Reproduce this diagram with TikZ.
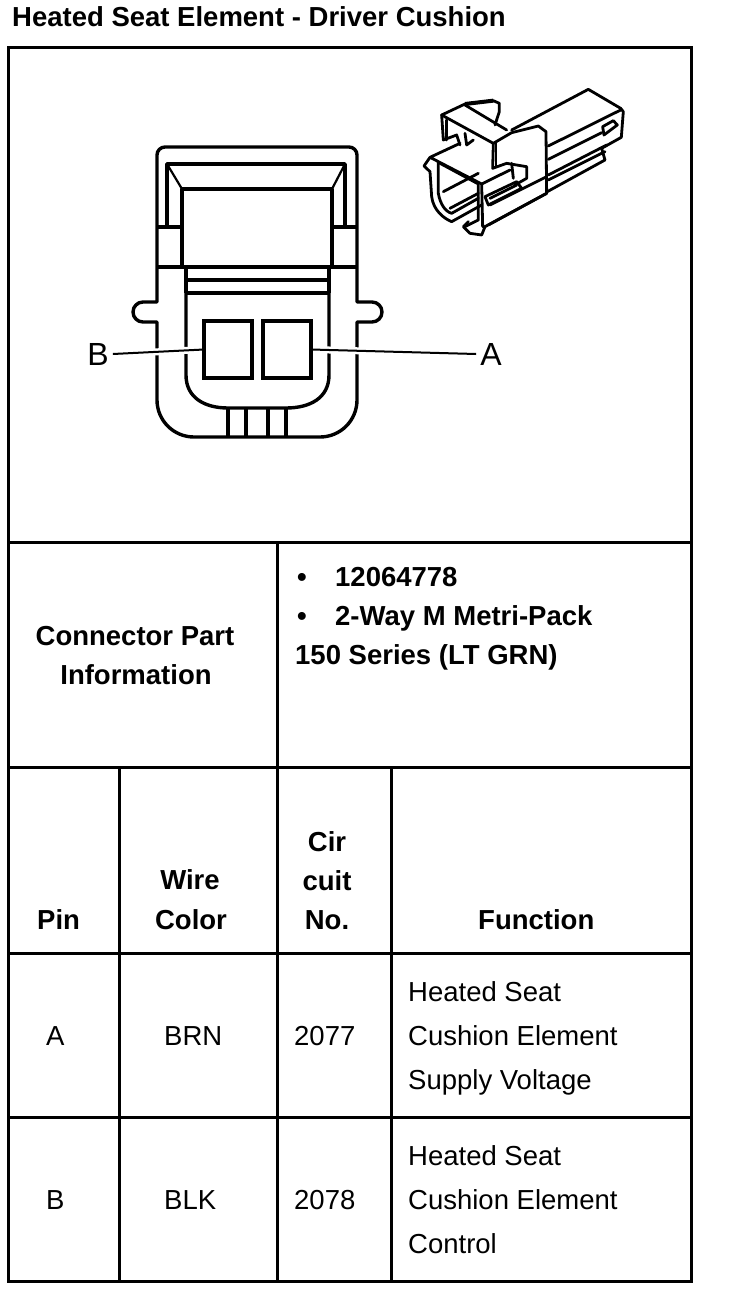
\documentclass[tikz,border=0pt]{standalone}
\usepackage{fontspec}
\setmainfont{Liberation Sans}
\tikzset{
  x=1pt,y=-1pt,
  grid/.style={line width=3pt,line cap=rect,black},
  cell/.style={font=\fontsize{27.5}{30}\selectfont,inner sep=0pt},
  tl/.style={cell,anchor=base west},
  tc/.style={cell,anchor=base},
  bl/.style={tl,font=\fontsize{27.5}{30}\selectfont\bfseries},
  bc/.style={tc,font=\fontsize{27.5}{30}\selectfont\bfseries},
  heavy/.style={line width=3.4pt,line join=round,black},
  mid/.style={line width=2.2pt,line join=round,black},
  pinbox/.style={draw,line width=3.4pt,inner sep=0pt,outer sep=0pt,anchor=north west},
  calllabel/.style={font=\fontsize{32}{34}\selectfont,inner sep=4pt},
  leader/.style={line width=2pt,black,preaction={draw=white,line width=7pt}},
  iso/.style={line width=2.8pt,line join=round,line cap=round,black},
}
\begin{document}
\begin{tikzpicture}
\useasboundingbox (0,0) rectangle (736,1298);
\fill[white] (0,0) rectangle (736,1298);
% table
\draw[grid] (8,47.5) rectangle (691,1281);
\draw[grid] (8,542) -- (691,542);
\draw[grid] (8,767) -- (691,767);
\draw[grid] (8,953) -- (691,953);
\draw[grid] (8,1117) -- (691,1117);
\draw[grid] (277,542) -- (277,1281);
\draw[grid] (119,767) -- (119,1281);
\draw[grid] (391,767) -- (391,1281);
% title
\node[bl] (title) at (12,27) {Heated Seat Element - Driver Cushion};
% connector front view
\draw[heavy] (157,155) arc[start angle=180,end angle=270,radius=8] -- (349,147) arc[start angle=270,end angle=360,radius=8]
  -- (357,302) -- (372,302) arc[start angle=-90,end angle=90,radius=10] -- (357,322)
  -- (357,400) arc[start angle=0,end angle=90,radius=37] -- (194,437)
  arc[start angle=90,end angle=180,radius=37] -- (157,322) -- (143,322)
  arc[start angle=90,end angle=270,radius=10] -- (157,302) -- cycle;
\draw[heavy] (167,227) -- (167,164) -- (345,164) -- (345,227);
\draw[mid] (167,164) -- (182,189) (345,164) -- (332,189);
\draw[heavy] (182,267) -- (182,189) -- (332,189) -- (332,267);
\draw[heavy] (158,227) -- (182,227) (332,227) -- (357,227);
\draw[heavy] (158,267) -- (357,267);
\draw[heavy] (186,267) -- (186,293) (329,267) -- (329,293);
\draw[heavy] (186,280) -- (329,280);
\draw[line width=4.5pt,black] (186,293) -- (329,293);
\draw[heavy] (186,293) -- (186,375) .. controls (186,398) and (205,408) .. (228,408)
  -- (286,408) .. controls (310,408) and (329,398) .. (329,375) -- (329,293);
\draw[heavy] (228,408) -- (228,437) (246,408) -- (246,437) (268,408) -- (268,437) (286,408) -- (286,437);
\node[pinbox,minimum width=48pt,minimum height=57pt] (pinB) at (204,321) {};
\node[pinbox,minimum width=48pt,minimum height=57pt] (pinA) at (263,321) {};
\node[calllabel] (labB) at (98,354) {B};
\node[calllabel] (labA) at (491,354) {A};
\draw[leader] (labB.east) -- (pinB.west);
\draw[leader] (pinA.east) -- (labA.west);
\draw[heavy] (204,321) rectangle (252,378) (263,321) rectangle (311,378);
% connector perspective view (coordinates in 3x crop of the reference)
\begin{scope}[shift={(410,80)},x=0.3333pt,y=-0.3333pt]
  \draw[iso] (305,150) -- (535,28) -- (632,85) -- (640,95) -- (634,172) -- (575,205) -- (585,240) -- (412,335);
  \draw[iso] (415,198) -- (632,90);
  \draw[iso] (415,238) -- (575,158);
  \draw[iso] (578,140) -- (610,122) -- (622,135) -- (582,165) -- cycle;
  \draw[iso] (415,285) -- (590,195);
  \draw[iso] (415,300) -- (585,215);
  \draw[iso] (95,105) -- (165,72) -- (250,62) -- (268,70) -- (268,95) -- (255,135);
  \draw[line width=4pt,black] (165,72) -- (250,62);
  \draw[iso] (95,105) -- (250,190) -- (305,158) -- (385,138) -- (408,155) -- (410,340) -- (225,440) -- (215,465) -- (180,460) -- (160,440) -- (175,425);
  \draw[iso] (95,105) -- (100,180) -- (140,165) -- (150,195);
  \draw[iso] (110,120) -- (110,180);
  \draw[iso] (165,75) -- (290,150);
  \draw[iso] (165,160) -- (170,195) -- (190,180);
  \draw[iso] (250,190) -- (248,265) -- (290,250) -- (350,260) -- (350,295) -- (315,315);
  \draw[iso] (258,190) -- (258,260);
  \draw[iso] (305,250) -- (310,295);
  \draw[iso] (60,232) -- (150,190) (60,232) -- (215,312) -- (300,270);
  \draw[iso] (60,232) -- (42,258) -- (60,275) -- (65,350) .. controls (70,390) and (100,415) .. (125,425) -- (215,375);
  \draw[iso] (85,245) -- (85,340) .. controls (90,370) and (105,395) .. (125,400) -- (205,355);
  \draw[iso] (90,250) -- (205,312) -- (205,420) -- (165,440);
  \draw[iso] (215,312) -- (218,440) -- (225,440);
  \draw[iso] (100,335) -- (205,280);
  \draw[iso] (120,385) -- (205,340);
  \draw[iso] (225,350) -- (320,305) -- (335,325) -- (235,375) -- (225,350);
  \draw[iso] (240,355) -- (320,315);
  \draw[iso] (235,435) -- (410,340);
  \draw[iso] (240,375) -- (410,290);
\end{scope}
% table text
\node[bl] (b1) at (297,586) {•};
\node[bl] (pn) at (335,586) {12064778};
\node[bl] (b2) at (297,625.5) {•};
\node[bl] (ty) at (335,625.5) {2-Way M Metri-Pack};
\node[bl] (se) at (295,664.5) {150 Series (LT GRN)};
\node[bc] (cpi1) at (135,645) {Connector Part};
\node[bc] (cpi2) at (136,684) {Information};
\node[bl] (hpin) at (37,929) {Pin};
\node[bc] (hw1) at (190,889) {Wire};
\node[bc] (hw2) at (191,929) {Color};
\node[bc] (hc1) at (327,851) {Cir};
\node[bc] (hc2) at (327,890) {cuit};
\node[bc] (hc3) at (327,929) {No.};
\node[bl] (hf) at (478,929) {Function};
\node[tl] (pa) at (46,1045) {A};
\node[tl] (wa) at (164,1045) {BRN};
\node[tl] (ca) at (294,1045) {2077};
\node[tl] (fa1) at (408,1001) {Heated Seat};
\node[tl] (fa2) at (408,1045) {Cushion Element};
\node[tl] (fa3) at (408,1089) {Supply Voltage};
\node[tl] (pb) at (46,1209) {B};
\node[tl] (wb) at (164,1209) {BLK};
\node[tl] (cb) at (294,1209) {2078};
\node[tl] (fb1) at (408,1165) {Heated Seat};
\node[tl] (fb2) at (408,1209) {Cushion Element};
\node[tl] (fb3) at (408,1253) {Control};
\end{tikzpicture}
\end{document}
